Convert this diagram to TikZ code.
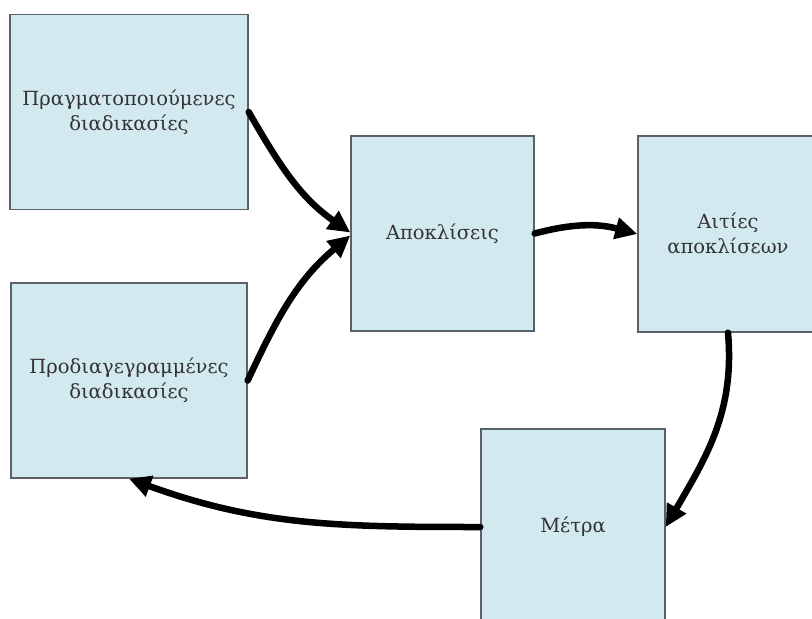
\documentclass[tikz,border=0pt]{standalone}
\usepackage{fontspec}
\setmainfont{DejaVu Serif}
\usetikzlibrary{arrows.meta}
\definecolor{boxfill}{HTML}{D2E9EF}
\definecolor{boxline}{HTML}{5A6068}
\definecolor{txt}{HTML}{333333}
\begin{document}
\begin{tikzpicture}[x=1pt,y=1pt,
  stage/.style={draw=boxline, line width=1.4pt, fill=boxfill, text=txt,
    align=center, inner sep=0pt,
    font=\fontsize{19.5}{25}\selectfont},
  flow/.style={line width=6.5pt, line cap=round,
    -{Triangle[length=22pt,width=21pt]}}]
\useasboundingbox (0,0) rectangle (812,-619);
\begin{scope}
\clip (0,0) rectangle (812,-619);
\node[stage, minimum width=238pt, minimum height=195pt] (real) at (129,-112) {Πραγματοποιούμενες\\διαδικασίες};
\node[stage, minimum width=236pt, minimum height=195pt] (spec) at (129,-380.5) {Προδιαγεγραμμένες\\διαδικασίες};
\node[stage, minimum width=183pt, minimum height=195pt] (dev) at (442.5,-233.5) {Αποκλίσεις};
\node[stage, minimum width=180pt, minimum height=196pt] (cause) at (728,-234) {Αιτίες\\αποκλίσεων};
\node[stage, minimum width=184pt, minimum height=196pt] (meas) at (573,-527) {Μέτρα};
\end{scope}
\draw[flow] (real.east) to[out=-60, in=145] ([yshift=1pt]dev.west);
\draw[flow] (spec.east) to[out=65, in=-140] ([yshift=-2pt]dev.west);
\draw[flow] (dev.east) to[out=15, in=165] (cause.west);
\draw[flow] (cause.south) to[out=-85, in=60] (meas.east);
\draw[flow] (meas.west) to[out=180, in=-20] (spec.south);
\end{tikzpicture}
\end{document}
